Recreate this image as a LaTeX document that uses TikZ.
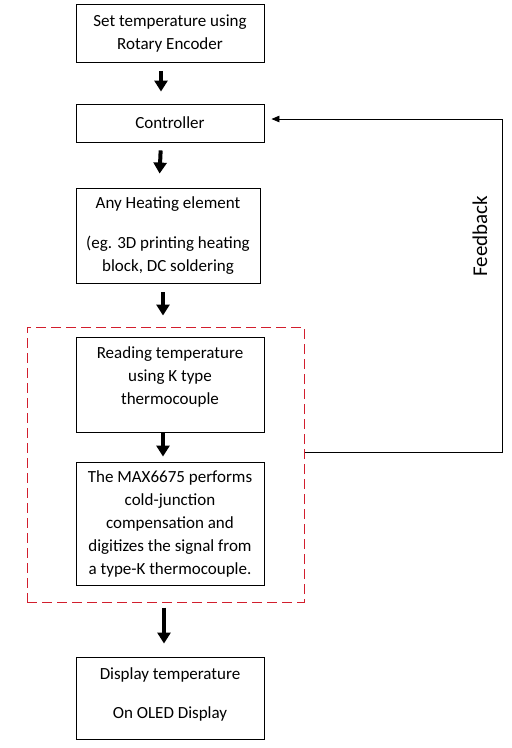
\documentclass[tikz,border=0pt]{standalone}
\usepackage{fontspec}
\setmainfont{Carlito}
\usepackage{tikz}
\usetikzlibrary{arrows.meta, positioning, calc}
\definecolor{frameRed}{RGB}{210,30,45}
\tikzstyle{stage} = [
  rectangle, draw=black, line width=0.9pt, fill=white,
  minimum width=188pt, align=center, inner sep=2pt,
  font=\fontsize{17}{23}\selectfont
]
\tikzstyle{zone} = [rectangle, draw=frameRed, line width=1pt, dash pattern=on 10pt off 5pt]
\tikzstyle{flow} = [-{Triangle[length=11pt,width=13pt]}, line width=4pt]
\tikzstyle{loopback} = [-{Triangle[length=8pt,width=6.5pt]}, line width=0.9pt]

\begin{document}
\begin{tikzpicture}[x=1pt, y=-1pt]
  \useasboundingbox (0,0) rectangle (512,748);

  % Set point and controller
  \node[stage, minimum height=58pt] (setpoint) at (170,33.5) {Set temperature using\\Rotary Encoder};
  \node[stage, minimum height=38pt] (ctrl) at (170,123) {Controller};

  % Heater
  \node[stage, minimum width=184pt, minimum height=95pt] (heater) at (168,235.5) {
    Any Heating element\\[17pt]
    (eg. 3D printing heating\\block, DC soldering
  };

  % Sensing group
  \node[zone, minimum width=277pt, minimum height=275pt] (sensing) at (165.5,464.5) {};
  \node[stage, minimum height=95pt, text depth=18pt] (reading) at (170,384.5) {
    Reading temperature\\using K type\\thermocouple
  };
  \node[stage, minimum height=123pt] (max) at (170,523.5) {
    The MAX6675 performs\\cold-junction\\compensation and\\
    digitizes the signal from\\a type-K thermocouple.
  };

  % Display
  \node[stage, minimum height=82pt, text depth=10pt] (display) at (170,698) {
    Display temperature\\[16pt]On OLED Display
  };

  % Arrows
  \draw[flow, shorten <=8pt, shorten >=12pt] ([xshift=-9pt]setpoint.south) -- ([xshift=-9pt]ctrl.north);
  \draw[flow, shorten <=8pt, shorten >=14pt] ([xshift=-9pt]ctrl.south) -- ([xshift=-9pt]heater.north);
  \draw[flow, shorten <=9pt, shorten >=11pt] ([xshift=-5pt]heater.south) -- ([xshift=-2.5pt]sensing.north);
  \draw[flow, shorten <=1pt, shorten >=5pt] ([xshift=-7pt]reading.south) -- ([xshift=-7pt]max.north);
  \draw[flow, shorten <=5pt, shorten >=13pt] ([xshift=-1.5pt]sensing.south) -- ([xshift=-6pt]display.north);

  % Feedback loop
  \coordinate (fbcorner) at (502,119);
  \draw[loopback, shorten >=7pt] ([yshift=12.5pt]sensing.east) -| (fbcorner) -- ([yshift=4pt]ctrl.east);
  \node[rotate=90, font=\fontsize{21}{25}\selectfont] (fblabel) at (480,236) {Feedback};

\end{tikzpicture}
\end{document}
